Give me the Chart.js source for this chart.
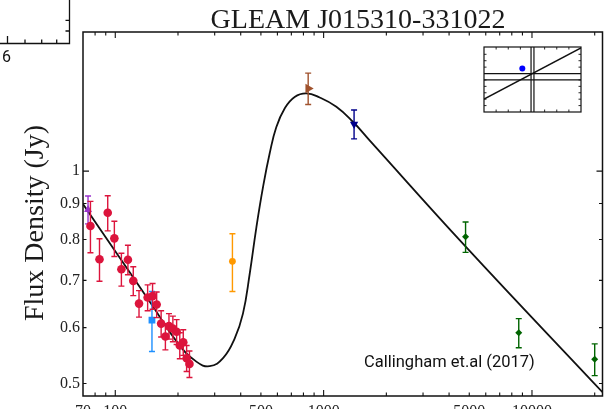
<!DOCTYPE html>
<html>
<head>
<meta charset="utf-8">
<script src="https://cdn.jsdelivr.net/npm/chart.js@4.4.0/dist/chart.umd.min.js"></script>
<style>
  html, body { margin: 0; padding: 0; background: #fff; overflow: hidden; }
  #wrap { position: relative; width: 608px; height: 409px; overflow: hidden; }
  #main { position: absolute; left: 0; top: 0; }
  #inset { position: absolute; left: 480px; top: 43px; }
</style>
</head>
<body>
<div id="wrap">
  <canvas id="main" width="608" height="440"></canvas>
  <canvas id="inset" width="105" height="73"></canvas>
</div>
<script>
// GLEAM points (MHz, Jy)
const gleamFreq = [76, 84, 92, 99, 107, 115, 122, 130, 143, 151, 158, 166, 174, 181, 189, 197, 204, 212, 220, 227];
const gleamFlux = [0.836, 0.750, 0.873, 0.803, 0.726, 0.749, 0.699, 0.649, 0.662, 0.665, 0.647, 0.608, 0.583, 0.603, 0.598, 0.592, 0.566, 0.572, 0.543, 0.533];
const gleamErr  = [0.07, 0.052, 0.05, 0.046, 0.039, 0.036, 0.033, 0.028, 0.028, 0.028, 0.027, 0.026, 0.025, 0.025, 0.025, 0.024, 0.024, 0.024, 0.023, 0.023];

// other surveys
const vlssFreq = [74],   vlssFlux = [0.882],  vlssErr = [0.04];
const tgssFreq = [150],  tgssFlux = [0.615],  tgssErr = [0.06];
const texasFreq = [365], texasFlux = [0.745], texasErr = [0.07];
const sumssFreq = [843], sumssFlux = [1.31],  sumssErr = [0.067];
const nvssFreq = [1400], nvssFlux = [1.166],  nvssErr = [0.055];
const at20gFreq = [4800, 8640, 20000];
const at20gFlux = [0.807, 0.590, 0.541];
const at20gErr  = [0.04, 0.028, 0.028];

// fitted model curve
const curveFreq = [70, 100, 150, 200, 245, 284, 329, 374, 410, 442, 476, 512, 551, 593, 650, 726, 826, 957, 1151, 1382, 1662, 4746, 21800];
const curveFlux = [0.898, 0.770, 0.646, 0.570, 0.537, 0.529, 0.543, 0.579, 0.628, 0.716, 0.834, 0.950, 1.06, 1.155, 1.227, 1.274, 1.289, 1.272, 1.234, 1.175, 1.106, 0.785, 0.486];

// axes
const xLabelTicks = [70, 100, 500, 1000, 5000, 10000];
const xMajorTicks = [100, 1000, 10000];
const xMinorTicks = [80, 90, 200, 300, 400, 500, 600, 700, 800, 900, 2000, 3000, 4000, 5000, 6000, 7000, 8000, 9000, 20000];
const yLabelTicks = [0.5, 0.6, 0.7, 0.8, 0.9, 1];
const yMajorTicks = [1];
const yMinorTicks = [0.5, 0.6, 0.7, 0.8, 0.9];

// inset (alpha_thin vs alpha_high)
const insetDiagX = [-1, 1], insetDiagY = [-1, 1];
const insetHoriz = [0, -0.25];
const insetVert = [-0.03, 0.03];
const insetSrcX = [-0.21], insetSrcY = [0.2];
const insetXTicks = [-0.75, -0.5, -0.25, 0.25, 0.5, 0.75];
const insetYTicks = [-1.25, -1, -0.75, -0.5, -0.25, 0.25, 0.5, 0.75];

const pts = (xs, ys) => xs.map((v, i) => ({ x: v, y: ys[i] }));

function survey(data, errs, color, style, radius, rotation) {
  return {
    data, errors: errs, borderColor: color, backgroundColor: color,
    pointStyle: style, pointRadius: radius, pointRotation: rotation || 0,
    borderWidth: 0, order: 0, showLine: false
  };
}

const errorBars = {
  id: 'errorBars',
  beforeDatasetDraw(chart, args) {
    const ds = chart.data.datasets[args.index];
    if (!ds.errors) return;
    const { ctx, scales: { x, y } } = chart;
    ctx.save();
    ctx.strokeStyle = ds.borderColor;
    ctx.lineWidth = 1.4;
    ds.data.forEach((p, i) => {
      const px = x.getPixelForValue(p.x);
      const top = y.getPixelForValue(p.y + ds.errors[i]);
      const bot = y.getPixelForValue(p.y - ds.errors[i]);
      ctx.beginPath();
      ctx.moveTo(px, top); ctx.lineTo(px, bot);
      ctx.moveTo(px - 3, top); ctx.lineTo(px + 3, top);
      ctx.moveTo(px - 3, bot); ctx.lineTo(px + 3, bot);
      ctx.stroke();
    });
    ctx.restore();
  }
};

const frame = {
  id: 'frame',
  afterDatasetsDraw(chart) {
    const { ctx, chartArea: a, scales: { x, y } } = chart;
    ctx.save();
    ctx.strokeStyle = '#111';
    ctx.lineWidth = 1.5;
    ctx.strokeRect(a.left, a.top, a.right - a.left, a.bottom - a.top);
    ctx.lineWidth = 1.1;
    ctx.beginPath();
    const xt = (vals, len) => vals.forEach(v => {
      const p = x.getPixelForValue(v);
      ctx.moveTo(p, a.bottom); ctx.lineTo(p, a.bottom - len);
      ctx.moveTo(p, a.top); ctx.lineTo(p, a.top + len);
    });
    const yt = (vals, len) => vals.forEach(v => {
      const p = y.getPixelForValue(v);
      ctx.moveTo(a.left, p); ctx.lineTo(a.left + len, p);
      ctx.moveTo(a.right, p); ctx.lineTo(a.right - len, p);
    });
    xt(xMajorTicks, 6); xt(xMinorTicks, 3.5);
    yt(yMajorTicks, 6); yt(yMinorTicks, 3.5);
    ctx.stroke();
    ctx.restore();
  },
  afterDraw(chart) {
    const { ctx } = chart;
    ctx.save();
    ctx.fillStyle = '#1a1a1a';
    ctx.font = '28px "Liberation Serif"';
    ctx.textAlign = 'center';
    ctx.textBaseline = 'alphabetic';
    ctx.fillText('GLEAM J015310-331022', 358, 28);

    ctx.save();
    ctx.translate(43, 223);
    ctx.rotate(-Math.PI / 2);
    ctx.fillText('Flux Density (Jy)', 0, 0);
    ctx.restore();

    ctx.font = '16.5px Roboto';
    ctx.textAlign = 'left';
    ctx.fillStyle = '#111';
    ctx.fillText('Callingham et.al (2017)', 364, 367);

    // edge of the neighbouring panel, top-left
    ctx.strokeStyle = '#111';
    ctx.lineWidth = 1.3;
    ctx.beginPath();
    ctx.moveTo(69.5, 0); ctx.lineTo(69.5, 43.5); ctx.lineTo(0, 43.5);
    ctx.moveTo(7.5, 43.5); ctx.lineTo(7.5, 36);
    [25, 41.7, 56.7].forEach(v => { ctx.moveTo(v, 43.5); ctx.lineTo(v, 39.5); });
    [20.3, 31].forEach(v => { ctx.moveTo(69.5, v); ctx.lineTo(65.5, v); });
    ctx.stroke();
    ctx.font = '16px Roboto';
    ctx.textAlign = 'center';
    ctx.fillText('6', 6.5, 62);
    ctx.restore();
  }
};

const serif = { family: '"Liberation Serif"', size: 16 };

new Chart(document.getElementById('main'), {
  type: 'scatter',
  data: {
    datasets: [
      {
        type: 'line', data: pts(curveFreq, curveFlux), borderColor: '#111', borderWidth: 1.8,
        pointRadius: 0, fill: false, tension: 0.45, order: 10
      },
      survey(pts(gleamFreq, gleamFlux), gleamErr, '#dc143c', 'circle', 4.3),
      survey(pts(vlssFreq, vlssFlux), vlssErr, '#9932cc', 'triangle', 4.6),
      survey(pts(tgssFreq, tgssFlux), tgssErr, '#1e90ff', 'rect', 4.8),
      survey(pts(texasFreq, texasFlux), texasErr, '#ff9900', 'circle', 3.4),
      survey(pts(sumssFreq, sumssFlux), sumssErr, '#a0522d', 'triangle', 5.5, 90),
      survey(pts(nvssFreq, nvssFlux), nvssErr, '#00008b', 'triangle', 4.8, 180),
      survey(pts(at20gFreq, at20gFlux), at20gErr, '#006400', 'rectRot', 3.5)
    ]
  },
  options: {
    responsive: false, animation: false, devicePixelRatio: 1,
    layout: { padding: { left: 0, right: 5, top: 32, bottom: 0 } },
    plugins: { legend: { display: false }, tooltip: { enabled: false }, title: { display: false } },
    scales: {
      x: {
        type: 'logarithmic', min: 70, max: 21800, bounds: 'data',
        grid: { display: false, drawTicks: false }, border: { display: false },
        afterBuildTicks: s => { s.ticks = xLabelTicks.map(v => ({ value: v })); },
        afterFit: s => { s.height = 44; },
        ticks: { autoSkip: false, maxRotation: 0, padding: 6, color: '#222', font: serif, callback: v => String(v) }
      },
      y: {
        type: 'logarithmic', min: 0.48, max: 1.575, bounds: 'data',
        grid: { display: false, drawTicks: false }, border: { display: false },
        afterBuildTicks: s => { s.ticks = yLabelTicks.map(v => ({ value: v })); },
        afterFit: s => { s.width = 83; },
        ticks: { autoSkip: false, padding: 3, color: '#222', font: serif, callback: v => String(v) }
      }
    }
  },
  plugins: [errorBars, frame]
});

const insetFrame = {
  id: 'insetFrame',
  afterDatasetsDraw(chart) {
    const { ctx, chartArea: a, scales: { x, y } } = chart;
    ctx.save();
    ctx.strokeStyle = '#111';
    ctx.lineWidth = 1.2;
    ctx.strokeRect(a.left, a.top, a.right - a.left, a.bottom - a.top);
    ctx.lineWidth = 0.9;
    ctx.beginPath();
    insetXTicks.forEach(v => {
      const p = x.getPixelForValue(v);
      ctx.moveTo(p, a.bottom); ctx.lineTo(p, a.bottom - 2.5);
      ctx.moveTo(p, a.top); ctx.lineTo(p, a.top + 2.5);
    });
    insetYTicks.forEach(v => {
      const p = y.getPixelForValue(v);
      ctx.moveTo(a.left, p); ctx.lineTo(a.left + 2.5, p);
      ctx.moveTo(a.right, p); ctx.lineTo(a.right - 2.5, p);
    });
    ctx.stroke();
    ctx.restore();
  }
};

const insetLine = (data, w) => ({
  type: 'line', data, borderColor: '#111', borderWidth: w, pointRadius: 0, fill: false
});

new Chart(document.getElementById('inset'), {
  type: 'scatter',
  data: {
    datasets: [
      insetLine(pts(insetDiagX, insetDiagY), 1.5),
      ...insetHoriz.map(h => insetLine([{ x: -1, y: h }, { x: 1, y: h }], 1.2)),
      ...insetVert.map(v => insetLine([{ x: v, y: -1.5 }, { x: v, y: 1.035 }], 1.2)),
      { data: pts(insetSrcX, insetSrcY), backgroundColor: '#0000ff', borderWidth: 0, pointRadius: 3 }
    ]
  },
  options: {
    responsive: false, animation: false, devicePixelRatio: 1,
    layout: { padding: 2 },
    plugins: { legend: { display: false }, tooltip: { enabled: false } },
    scales: {
      x: { type: 'linear', min: -1, max: 1, display: false },
      y: { type: 'linear', min: -1.5, max: 1.035, display: false }
    }
  },
  plugins: [insetFrame]
});
</script>
</body>
</html>
